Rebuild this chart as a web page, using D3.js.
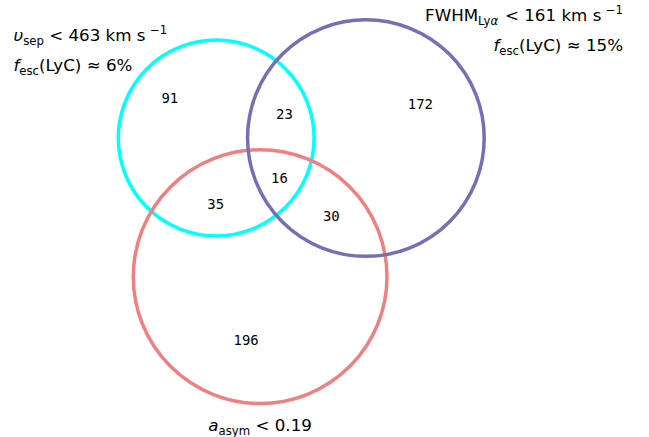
<!DOCTYPE html>
<html>
<head>
<meta charset="utf-8">
<script src="https://cdn.jsdelivr.net/npm/d3@7/dist/d3.min.js"></script>
<style>
  html, body { margin: 0; padding: 0; background: #ffffff; }
  svg { display: block; }
  .count { font-family: "DejaVu Sans Mono", monospace; font-size: 13.9px; fill: #000; }
  .setlabel { font-family: "DejaVu Sans", sans-serif; font-size: 16.7px; fill: #000; }
</style>
</head>
<body>
<svg id="chart" width="649" height="437"></svg>
<script>
// Three sets; each region is a membership mask [inA, inB, inC]
const setKeys = ["vsep", "fwhm", "asym"];
const regionMasks = [
  [1, 0, 0], [0, 1, 0], [1, 1, 0], [0, 0, 1], [1, 0, 1], [0, 1, 1], [1, 1, 1]
];
const regionCounts = [91, 172, 23, 196, 35, 30, 16];

const W = 649, H = 437;
const palette = d3.scaleOrdinal().domain(setKeys).range(["#00ffff", "#7570b3", "#f08080"]);
const strokeW = 3.5;

// ---- area-proportional layout ----
const setSizes = setKeys.map((_, i) =>
  d3.sum(regionMasks, (m, k) => (m[i] ? regionCounts[k] : 0)));
const pairOverlap = (i, j) =>
  d3.sum(regionMasks, (m, k) => (m[i] && m[j] ? regionCounts[k] : 0));

const radius = d3.scaleSqrt().domain([0, 1]).range([0, Math.sqrt(1 / Math.PI)]);
const R = setSizes.map(s => radius(s));

function lensArea(r1, r2, d) {
  if (d >= r1 + r2) return 0;
  if (d <= Math.abs(r1 - r2)) return Math.PI * Math.min(r1, r2) ** 2;
  const a1 = Math.acos((d * d + r1 * r1 - r2 * r2) / (2 * d * r1));
  const a2 = Math.acos((d * d + r2 * r2 - r1 * r1) / (2 * d * r2));
  const t = (-d + r1 + r2) * (d + r1 - r2) * (d - r1 + r2) * (d + r1 + r2);
  return r1 * r1 * a1 + r2 * r2 * a2 - 0.5 * Math.sqrt(t);
}
function solveDistance(r1, r2, area) {
  let lo = Math.abs(r1 - r2), hi = r1 + r2;
  for (let it = 0; it < 100; it++) {
    const mid = (lo + hi) / 2;
    if (lensArea(r1, r2, mid) > area) lo = mid; else hi = mid;
  }
  return (lo + hi) / 2;
}
const dAB = solveDistance(R[0], R[1], pairOverlap(0, 1));
const dAC = solveDistance(R[0], R[2], pairOverlap(0, 2));
const dBC = solveDistance(R[1], R[2], pairOverlap(1, 2));
const cx = (dAC * dAC - dBC * dBC + dAB * dAB) / (2 * dAB);
const cy = Math.sqrt(Math.max(0, dAC * dAC - cx * cx));
const centersU = [[0, 0], [dAB, 0], [cx, cy]];

// fit the union of circles into the plotting frame
const bx0 = d3.min(centersU, (c, i) => c[0] - R[i]);
const bx1 = d3.max(centersU, (c, i) => c[0] + R[i]);
const by0 = d3.min(centersU, (c, i) => c[1] - R[i]);
const frame = { left: 118.3, right: 484.2, top: 19.7 };
const k = (frame.right - frame.left) / (bx1 - bx0);
const x = d3.scaleLinear().domain([bx0, bx1]).range([frame.left, frame.right]);
const y = d3.scaleLinear().domain([by0, by0 + (bx1 - bx0)]).range([frame.top, frame.top + (frame.right - frame.left)]);

const circles = setKeys.map((key, i) => ({
  key, i, cx: x(centersU[i][0]), cy: y(centersU[i][1]), r: R[i] * k
}));

const svg = d3.select("#chart");

// draw order: A, C, then B on top
svg.append("g").selectAll("circle")
  .data([circles[0], circles[2], circles[1]])
  .join("circle")
  .attr("cx", d => d.cx).attr("cy", d => d.cy).attr("r", d => d.r)
  .attr("fill", "none")
  .attr("stroke", d => palette(d.key))
  .attr("stroke-width", strokeW);

// ---- region label positions: mean of boundary arc midpoints, weighted by arc angle ----
function inside(c, px, py) { return Math.hypot(px - c.cx, py - c.cy) < c.r; }
function regionAnchor(mask) {
  const N = 7200;
  let sx = 0, sy = 0, sw = 0;
  circles.forEach((c, i) => {
    const on = new Array(N);
    for (let s = 0; s < N; s++) {
      const a = (2 * Math.PI * s) / N;
      const px = c.cx + c.r * Math.cos(a), py = c.cy + c.r * Math.sin(a);
      on[s] = circles.every((o, j) => j === i || (inside(o, px, py) ? 1 : 0) === mask[j]);
    }
    if (!on.some(v => v)) return;
    // start scanning at a sample that is off, so runs don't wrap
    let start = on.findIndex(v => !v);
    if (start < 0) start = 0;
    let s = 0;
    while (s < N) {
      const idx = (start + s) % N;
      if (on[idx]) {
        let len = 0;
        while (s + len < N && on[(start + s + len) % N]) len++;
        const midA = (2 * Math.PI * (start + s + (len - 1) / 2)) / N;
        const w = len; // angular extent of the arc
        sx += w * (c.cx + c.r * Math.cos(midA));
        sy += w * (c.cy + c.r * Math.sin(midA));
        sw += w;
        s += len;
      } else s++;
    }
  });
  return [sx / sw, sy / sw];
}

const regionData = regionMasks.map((m, k2) => {
  const p = regionAnchor(m);
  return { count: regionCounts[k2], px: p[0], py: p[1] };
});

svg.append("g").selectAll("text")
  .data(regionData)
  .join("text")
  .attr("class", "count")
  .attr("x", d => d.px).attr("y", d => d.py)
  .attr("text-anchor", "middle")
  .attr("dominant-baseline", "central")
  .text(d => d.count);

// ---- set labels with math-style sub/superscripts ----
const FS = 16.7;
function richLine(g, parts, yBase) {
  const t = g.append("text").attr("class", "setlabel").attr("x", 0).attr("y", yBase);
  let shift = 0;
  parts.forEach(p => {
    const ts = t.append("tspan").text(p.t);
    let target = 0, size = FS;
    if (p.sub) { target = 0.22 * FS; size = FS * 0.7; }
    if (p.sup) { target = -0.42 * FS; size = FS * 0.7; }
    ts.attr("dy", target - shift).attr("font-size", size);
    if (p.gap) ts.attr("dx", p.gap);
    if (p.it) ts.attr("font-style", "italic");
    shift = target;
  });
  return t;
}

const labelA = [
  [{ t: "υ", it: true }, { t: "sep", sub: true }, { t: " < 463 km s" }, { t: "−1", sup: true, gap: 4.5 }],
  [{ t: "f", it: true }, { t: "esc", sub: true }, { t: "(LyC) ≈ 6%" }]
];
const labelB = [
  [{ t: "FWHM" }, { t: "Ly", sub: true }, { t: "α", sub: true, it: true }, { t: " < 161 km s", gap: 1.5 }, { t: "−1", sup: true, gap: 4.5 }],
  [{ t: "f", it: true }, { t: "esc", sub: true }, { t: "(LyC) ≈ 15%" }]
];
const labelC = [
  [{ t: "a", it: true }, { t: "asym", sub: true }, { t: " < 0.19" }]
];
const lineGap = 30;

function placeBlock(lines, circ, mode) {
  const g = svg.append("g");
  const base = circ.cy - circ.r + 1.3;
  const texts = lines.map((ln, li) => richLine(g, ln, base + li * lineGap));
  const widths = texts.map(t => t.node().getBBox().width);
  const bw = d3.max(widths);
  if (mode === "A") {
    const left = circ.cx - circ.r / 2 - bw;
    texts.forEach(t => t.attr("x", left).selectAll("tspan").filter((d, i) => i === 0).attr("x", left));
  } else if (mode === "B") {
    const left = circ.cx + circ.r / 2;
    texts.forEach((t, i) => {
      const lx = left + bw - widths[i];
      t.attr("x", lx).selectAll("tspan").filter((d, j) => j === 0).attr("x", lx);
    });
  }
  return g;
}
placeBlock(labelA, circles[0], "A");
placeBlock(labelB, circles[1], "B");

// bottom label centred under set C
{
  const c = circles[2];
  const g = svg.append("g");
  const t = richLine(g, labelC[0], c.cy + c.r * 1.1 + 15);
  const w = t.node().getBBox().width;
  const lx = c.cx - w / 2;
  t.attr("x", lx).select("tspan").attr("x", lx);
}
</script>
</body>
</html>
